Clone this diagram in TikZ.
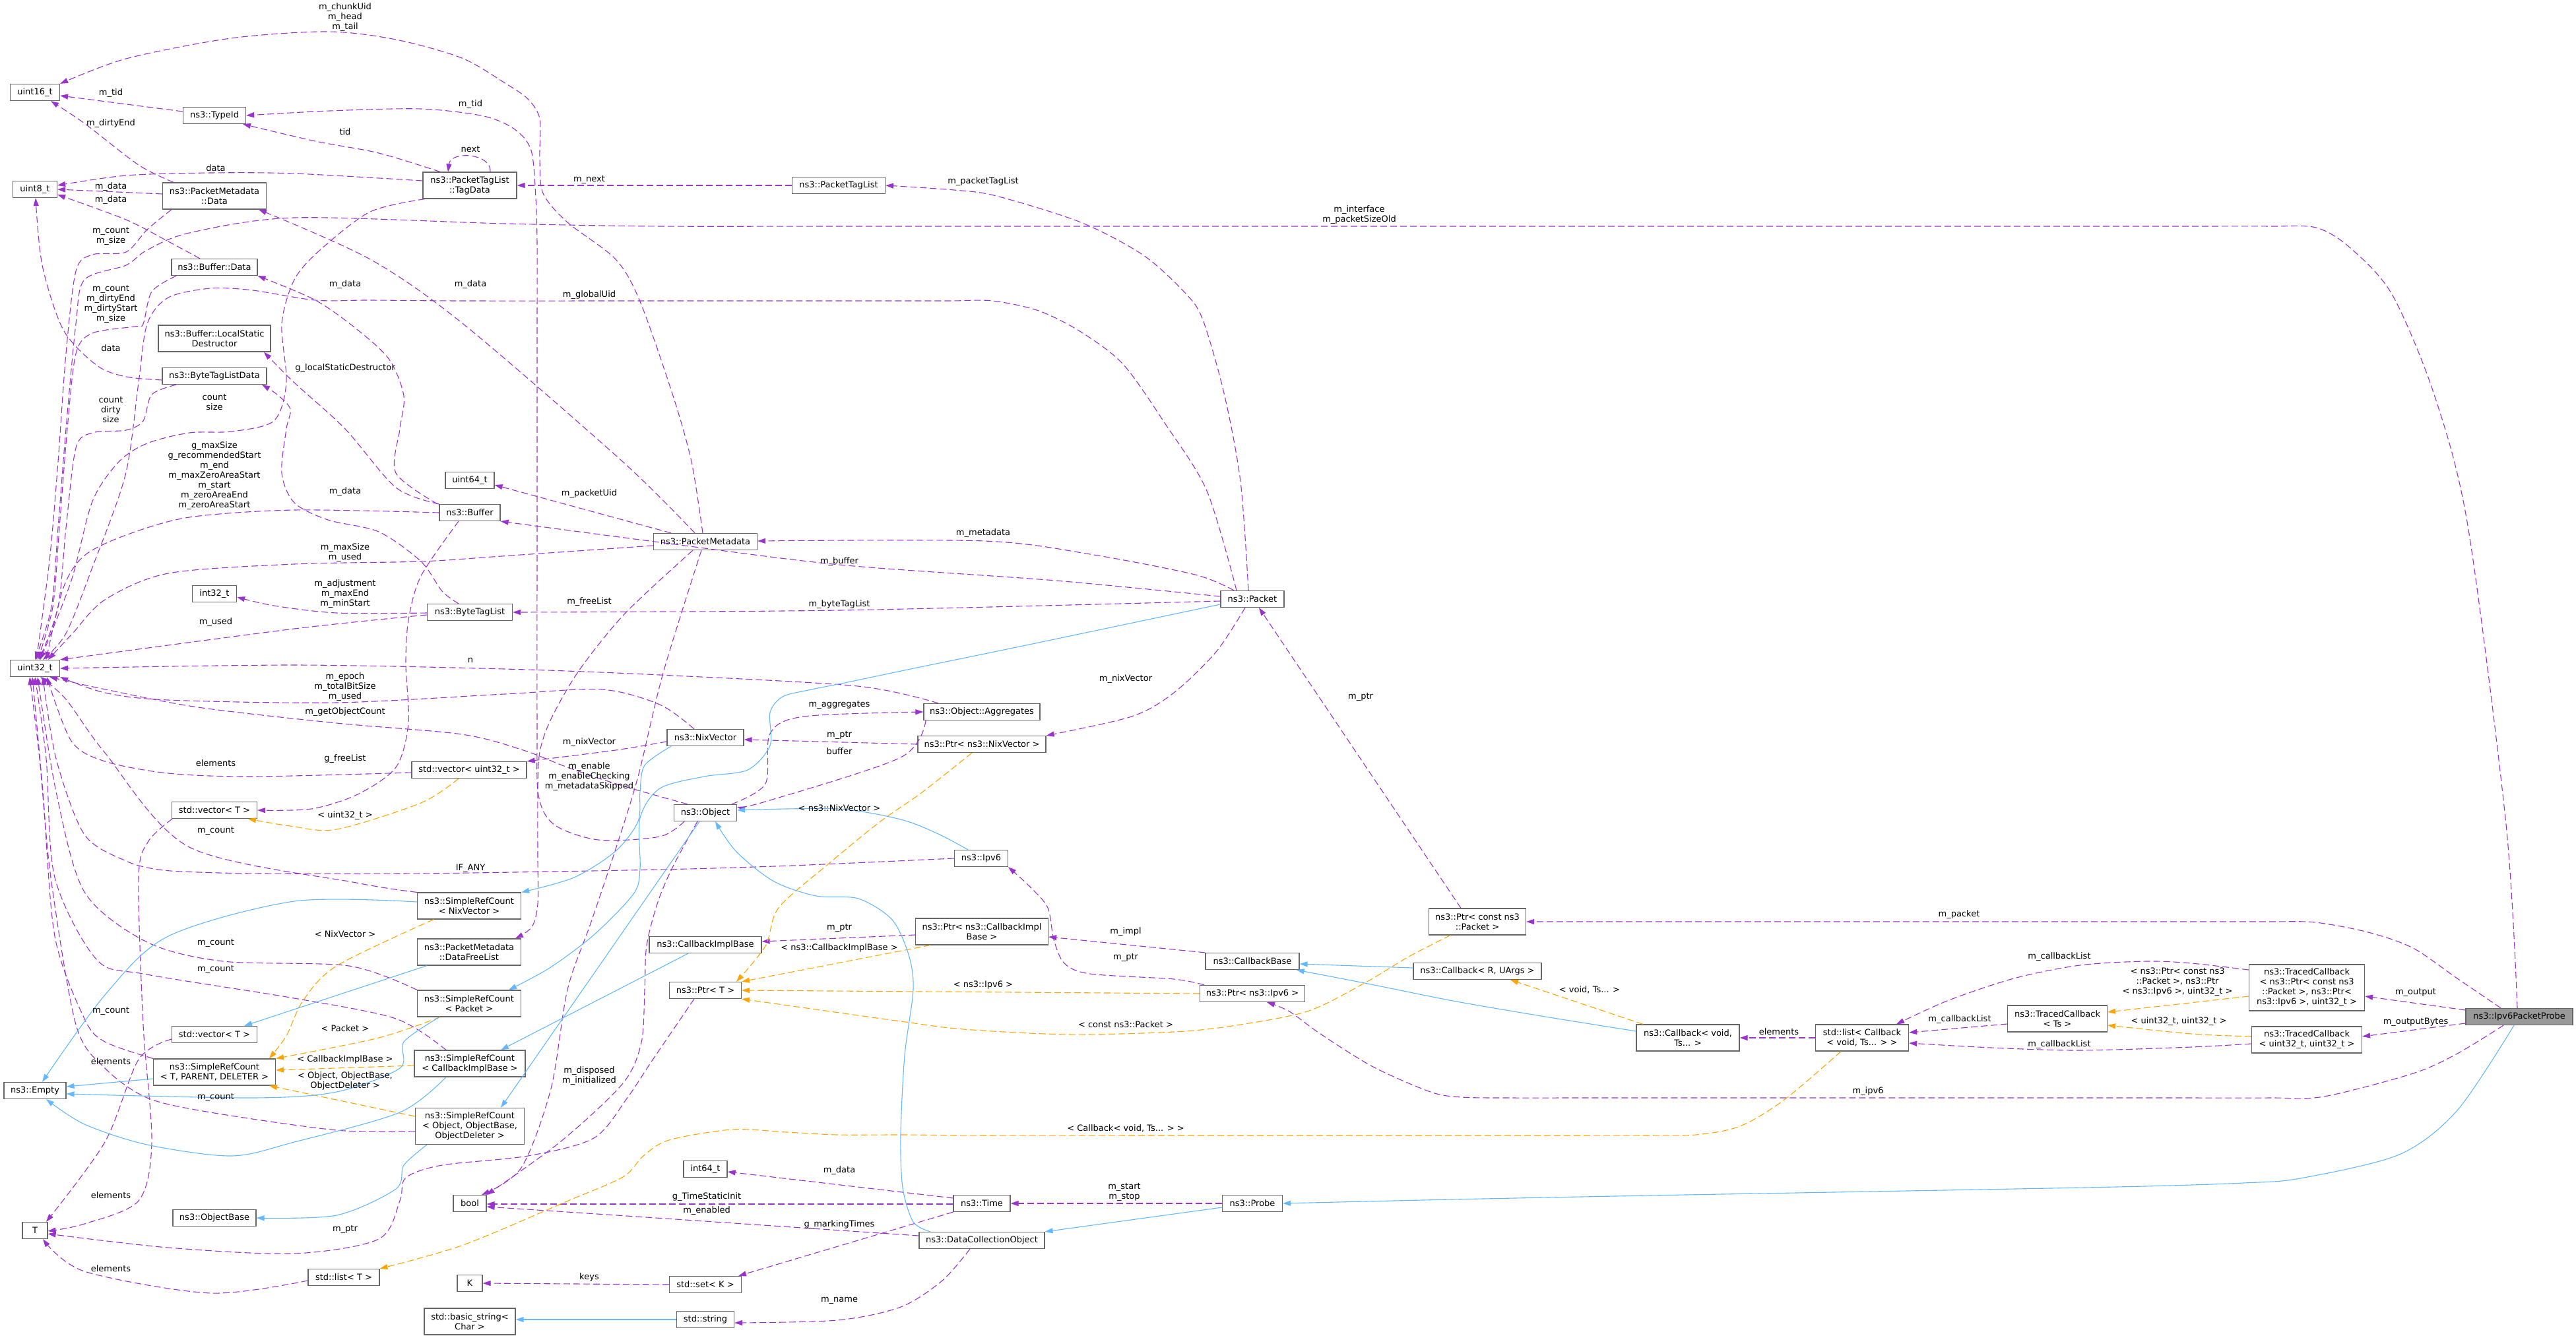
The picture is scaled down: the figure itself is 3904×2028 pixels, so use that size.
\documentclass[tikz,border=0pt]{standalone}
\usepackage{fontspec}
\setmainfont{DejaVu Sans}
\usetikzlibrary{arrows.meta}
\definecolor{memc}{HTML}{9A32CD}
\definecolor{orgc}{HTML}{FFA500}
\definecolor{bluc}{HTML}{63B8FF}
\definecolor{boxc}{HTML}{666666}
\definecolor{probec}{HTML}{999999}
\newcommand\dfont{\fontsize{13}{15}\selectfont}
\newcommand\crv[2]{\draw[#1] plot[smooth,tension=0.5] coordinates {#2};}
\tikzset{
  box/.style={draw=boxc,fill=white,line width=1.2pt,inner sep=0pt,align=center,font=\dfont},
  b/.style 2 args={box,minimum width=#1pt,minimum height=#2pt},
  lab/.style={font=\dfont,align=center,inner sep=0pt},
  mem/.style={draw=memc,line width=1.1pt,dash pattern=on 10pt off 5pt,-{Triangle[length=12pt,width=8pt]}},
  tmpl/.style={draw=orgc,line width=1.1pt,dash pattern=on 10pt off 5pt,-{Triangle[length=12pt,width=8pt]}},
  inh/.style={draw=bluc,line width=1.1pt,-{Triangle[length=12pt,width=8pt]}}
}
\begin{document}
\begin{tikzpicture}[x=1pt,y=-1pt]
\fill[white] (0,0) rectangle (3904,2028);
\useasboundingbox (0,0) rectangle (3904,2028);
% nodes
\node[b={75}{25}] (u16) at (53,140) {uint16\_t};
\node[b={95}{25}] (typeid) at (325,175) {ns3::TypeId};
\node[b={142}{40}] (tagdata) at (712,281) {ns3::PacketTagList\\::TagData};
\node[b={67}{25}] (u8) at (53,287) {uint8\_t};
\node[b={157}{40}] (pmdata) at (325,297) {ns3::PacketMetadata\\::Data};
\node[b={130}{25}] (bufdata) at (325,405) {ns3::Buffer::Data};
\node[b={170}{40}] (lsd) at (325,513) {ns3::Buffer::LocalStatic\\Destructor};
\node[b={158}{25}] (btld) at (325,570) {ns3::ByteTagListData};
\node[b={74}{25}] (u64) at (712,728) {uint64\_t};
\node[b={92}{25}] (buffer) at (712,777) {ns3::Buffer};
\node[b={67}{25}] (i32) at (325,900) {int32\_t};
\node[b={129}{25}] (btl) at (712,928) {ns3::ByteTagList};
\node[b={75}{25}] (u32) at (53,1013) {uint32\_t};
\node[b={174}{25}] (vecu32) at (711,1167) {std::vector< uint32\_t >};
\node[b={129}{25}] (vecT1) at (325,1228) {std::vector< T >};
\node[b={157}{40}] (srcnix) at (711,1373) {ns3::SimpleRefCount\\< NixVector >};
\node[b={157}{40}] (dfl) at (711,1443) {ns3::PacketMetadata\\::DataFreeList};
\node[b={157}{40}] (srcpkt) at (711,1521) {ns3::SimpleRefCount\\< Packet >};
\node[b={129}{25}] (vecT2) at (325,1568) {std::vector< T >};
\node[b={185}{40}] (srcT) at (325,1625) {ns3::SimpleRefCount\\< T, PARENT, DELETER >};
\node[b={168}{40}] (srccib) at (712,1612) {ns3::SimpleRefCount\\< CallbackImplBase >};
\node[b={94}{25}] (empty) at (53,1653) {ns3::Empty};
\node[b={165}{55}] (srcobj) at (712,1707) {ns3::SimpleRefCount\\< Object, ObjectBase,\\ObjectDeleter >};
\node[b={50}{25}] (bool) at (712,1824) {bool};
\node[b={126}{25}] (objbase) at (325,1846) {ns3::ObjectBase};
\node[b={38}{25}] (T) at (53,1865) {T};
\node[b={108}{25}] (listT) at (521,1936) {std::list< T >};
\node[b={38}{25}] (K) at (712,1945) {K};
\node[b={138}{40}] (bstr) at (712,2003) {std::basic\_string<\\Char >};
\node[b={141}{25}] (ptl) at (1271,281) {ns3::PacketTagList};
\node[b={157}{25}] (pm) at (1069,821) {ns3::PacketMetadata};
\node[b={96}{25}] (packet) at (1898,908) {ns3::Packet};
\node[b={176}{25}] (aggr) at (1488,1079) {ns3::Object::Aggregates};
\node[b={116}{25}] (nix) at (1069,1118) {ns3::NixVector};
\node[b={194}{25}] (ptrnix) at (1488,1128) {ns3::Ptr< ns3::NixVector >};
\node[b={95}{25}] (object) at (1069,1232) {ns3::Object};
\node[b={81}{25}] (ipv6) at (1487,1301) {ns3::Ipv6};
\node[b={201}{40}] (ptrcib) at (1488,1412) {ns3::Ptr< ns3::CallbackImpl\\Base >};
\node[b={170}{25}] (cib) at (1069,1432) {ns3::CallbackImplBase};
\node[b={109}{25}] (ptrT) at (1069,1501) {ns3::Ptr< T >};
\node[b={66}{25}] (int64) at (1069,1772) {int64\_t};
\node[b={86}{25}] (time) at (1488,1824) {ns3::Time};
\node[b={91}{25}] (probe) at (1898,1824) {ns3::Probe};
\node[b={190}{25}] (dco) at (1488,1880) {ns3::DataCollectionObject};
\node[b={109}{25}] (setK) at (1069,1947) {std::set< K >};
\node[b={87}{25}] (str) at (1069,2000) {std::string};
\node[b={147}{40}] (ptrcpkt) at (2239,1397) {ns3::Ptr< const ns3\\::Packet >};
\node[b={142}{25}] (cbbase) at (1898,1457) {ns3::CallbackBase};
\node[b={194}{25}] (cbR) at (2239,1472) {ns3::Callback< R, UArgs >};
\node[b={159}{25}] (ptripv6) at (1898,1506) {ns3::Ptr< ns3::Ipv6 >};
\node[b={156}{40}] (cbvoid) at (2558,1573) {ns3::Callback< void,\\Ts... >};
\node[b={141}{40}] (listcb) at (2822,1573) {std::list< Callback\\< void, Ts... > >};
\node[b={151}{40}] (tcts) at (3118,1544) {ns3::TracedCallback\\< Ts >};
\node[b={175}{70}] (tc1) at (3496,1497) {ns3::TracedCallback\\< ns3::Ptr< const ns3\\::Packet >, ns3::Ptr<\\ns3::Ipv6 >, uint32\_t >};
\node[b={167}{40}] (tc2) at (3496,1576) {ns3::TracedCallback\\< uint32\_t, uint32\_t >};
\node[b={162}{25},fill=probec] (probeI) at (3818,1541) {ns3::Ipv6PacketProbe};
% member edges
\crv{mem}{([xshift=-4pt]pm.north) (1048,700) (1020,600) (970,457) (933,393) (860,337) (823,293) (818,240) (818,180) (800,150) (767,127) (700,88) (600,60) (497,48) (350,58) (191,89) (u16.north east)}
\crv{mem}{([xshift=-32pt]object.south) (1000,1268) (907,1273) (840,1250) (816,1205) (814,1100) (814,800) (814,500) (814,370) (812,300) (805,228) (780,196) (733,176) (638,165) (500,168) (typeid.east)}
\draw[mem] ([yshift=6pt]typeid.west) -- ([yshift=-5pt]u16.east);
\crv{mem}{([xshift=-62pt]pmdata.north) (210,250) (128,187) ([xshift=24pt]u16.south)}
\crv{mem}{([yshift=7pt]tagdata.west) (446,263) (319,262) (191,266) ([yshift=6pt]u8.east)}
\draw[mem] ([yshift=3pt]pmdata.west) -- (u8.east);
\crv{mem}{([xshift=-22pt]bufdata.north) (255,366) (191,333) ([yshift=-8pt]u8.east)}
\crv{mem}{([xshift=-45pt]tagdata.north) (574,232) (478,214) ([xshift=43pt]typeid.south)}
\draw[mem] ([xshift=31pt]tagdata.north) .. controls (745,232) and (683,228) .. ([xshift=-33pt]tagdata.north);
\draw[mem] (ptl.west) -- (tagdata.east);
\crv{mem}{([xshift=-6pt]packet.north) (1880,730) (1855,596) (1823,485) (1797,445) (1733,387) (1638,337) (1510,297) (1446,288) (ptl.east)}
\crv{mem}{([xshift=-65pt]pmdata.south) (223,348) (191,382) (140,386) (115,411) (100,536) (88,700) (75,850) ([xshift=2pt]u32.north)}
\crv{mem}{([xshift=-58pt]bufdata.south) (230,442) (217,491) (204,495) (140,505) (115,536) (102,650) (90,800) (80,920) ([xshift=4pt]u32.north)}
\crv{mem}{([yshift=-6pt]btld.west) (191,571) (147,554) (96,500) (64,402) ([xshift=1pt]u8.south)}
\crv{mem}{([xshift=-58pt]btld.south) (230,598) (217,638) (191,652) (140,656) (115,679) (100,800) (88,920) ([xshift=6pt]u32.north)}
\crv{mem}{([xshift=-68pt]tagdata.south) (561,321) (485,379) (446,424) (427,491) (434,580) (415,638) (351,654) (287,656) (223,672) (180,700) (140,760) (108,880) ([xshift=8pt]u32.north)}
\crv{mem}{([xshift=-24pt]packet.north) (1829,744) (1765,641) (1702,552) (1638,503) (1574,471) (1504,456) (1440,456) (1330,456) (1150,456) (1000,456) (700,456) (560,455) (478,455) (383,440) (319,437) (255,451) (223,491) (210,580) (190,720) (140,860) (100,960) ([xshift=12pt]u32.north)}
\crv{mem}{([xshift=-3pt]probeI.north) (3798,1250) (3740,797) (3689,598) (3625,446) (3561,375) (3510,345) (3440,343) (3330,343) (3150,343) (2800,343) (2300,343) (1900,343) (1300,343) (1000,343) (765,339) (446,330) (287,353) (223,379) (191,402) (128,424) (115,491) (100,650) (88,800) (78,920) (u32.north)}
\crv{mem}{(buffer.west) (446,773) (287,784) (191,811) (128,842) (96,891) ([xshift=17pt]u32.north)}
\crv{mem}{([yshift=-6pt]pm.west) (760,843) (638,851) (446,855) (255,869) (159,909) (110,960) ([xshift=20pt]u32.north)}
\crv{mem}{([yshift=-1pt]btl.west) (510,929) (415,918) ([yshift=-5pt]i32.east)}
\crv{mem}{([yshift=-4pt]btl.west) (446,953) (u32.north east)}
\crv{mem}{([xshift=-66pt]aggr.north) (1300,1040) (1000,1023) (765,1014) (446,1008) (u32.east)}
\crv{mem}{([xshift=-17pt]nix.north) (1000,1068) (912,1045) (765,1052) (510,1065) (255,1061) (159,1050) (u32.south east)}
\crv{mem}{([xshift=-27pt]object.north) (940,1190) (860,1163) (793,1137) (700,1113) (510,1096) (300,1072) (160,1045) ([xshift=22pt]u32.south)}
\crv{mem}{([yshift=-4pt]vecu32.west) (383,1177) (255,1172) (159,1154) (108,1123) ([xshift=18pt]u32.south)}
\crv{mem}{(ipv6.west) (1200,1312) (1000,1318) (638,1324) (400,1324) (300,1322) (240,1318) (191,1305) (128,1265) (85,1150) ([xshift=12pt]u32.south)}
\crv{mem}{(srcnix.north west) (540,1338) (287,1284) (159,1141) (100,1060) ([xshift=8pt]u32.south)}
\crv{mem}{(srcpkt.north west) (529,1464) (338,1457) (223,1428) (128,1352) (85,1200) ([xshift=4pt]u32.south)}
\crv{mem}{([xshift=-36pt]srccib.north) (600,1544) (446,1513) (223,1477) (147,1455) (83,1330) (70,1150) (u32.south)}
\crv{mem}{(srcT.north west) (159,1579) (128,1544) (83,1419) (65,1200) ([xshift=-4pt]u32.south)}
\crv{mem}{([yshift=-8pt]srcobj.west) (510,1713) (319,1686) (223,1664) (159,1619) (115,1553) (77,1330) (60,1150) ([xshift=-8pt]u32.south)}
\crv{mem}{([xshift=-64pt]vecT1.south) (225,1275) (210,1330) (217,1553) (230,1731) (210,1820) (128,1855) ([yshift=-1pt]T.east)}
\crv{mem}{([yshift=-7pt]vecT2.west) (210,1606) (159,1731) ([xshift=17pt]T.north)}
\crv{mem}{([yshift=-5pt]listT.west) (319,1960) (128,1927) ([xshift=12pt]T.south)}
\crv{mem}{([xshift=-17pt]ptrT.south) (988,1608) (950,1665) (900,1725) (800,1752) (670,1766) (615,1785) (606,1820) (574,1878) (446,1900) (255,1891) ([yshift=-5pt]T.east)}
\draw[mem] ([yshift=-1pt]time.west) -- ([yshift=-1pt]bool.east);
\crv{mem}{([yshift=7pt]dco.west) (950,1843) ([yshift=-5pt]bool.east)}
\crv{mem}{([xshift=-12pt]object.south) (1020,1313) (997,1367) (980,1433) (977,1500) (972,1580) (944,1642) (850,1730) (bool.north east)}
\crv{mem}{([xshift=-6pt]pm.south) (1005,1020) (967,1177) (933,1287) (895,1400) (860,1500) (835,1650) (790,1770) ([xshift=18pt]bool.north)}
\crv{mem}{([xshift=-19pt]pm.south) (947,930) (877,1017) (835,1090) (818,1140) (815,1200) (815,1300) (815,1370) (806,1405) ([xshift=70pt]dfl.north)}
\crv{mem}{([xshift=-16pt]pm.north) (944,700) (702,491) (561,393) ([xshift=67pt]pmdata.south)}
\draw[mem] ([xshift=-52pt]pm.north) -- ([yshift=-7pt]u64.east);
\crv{mem}{([xshift=-28pt]packet.north) (1811,871) (1652,840) (1492,820) ([yshift=1pt]pm.east)}
\crv{mem}{([yshift=4pt]packet.west) (1600,880) (1272,856) (1000,822) (buffer.south east)}
\crv{mem}{([yshift=-3pt]packet.west) (1272,925) (btl.east)}
\crv{mem}{([xshift=-49pt]buffer.north) (600,717) (606,650) (612,600) (590,545) (542,500) (478,455) (bufdata.south east)}
\crv{mem}{(buffer.north west) (600,739) (523,650) (446,580) ([xshift=75pt]lsd.south)}
\crv{mem}{([xshift=-17pt]buffer.south) (638,873) (619,940) (615,1007) (619,1096) (600,1163) (542,1204) (472,1226) (vecT1.east)}
\crv{mem}{([xshift=-17pt]btl.north) (670,896) (638,851) (574,806) (497,788) (446,762) (427,717) (434,650) (440,620) (420,598) ([xshift=72pt]btld.south)}
\crv{mem}{([yshift=-6pt]nix.west) (933,1137) (vecu32.north east)}
\draw[mem] (ptrnix.west) -- ([yshift=-3pt]nix.east);
\crv{mem}{([xshift=-11pt]packet.south) (1843,988) (1779,1050) (1715,1086) (ptrnix.north east)}
\crv{mem}{([xshift=40pt]object.north) (1160,1188) (1167,1112) (1218,1086) (aggr.west)}
\crv{mem}{([xshift=-85pt]aggr.south) (1365,1148) (1160,1215) ([yshift=9pt]object.east)}
\draw[mem] ([xshift=-25pt]ptrcpkt.north) -- ([xshift=10pt]packet.south);
\draw[mem] (cbbase.north west) -- ([yshift=-8pt]ptrcib.east);
\draw[mem] ([yshift=-5pt]ptrcib.west) -- ([yshift=5pt]cib.east);
\crv{mem}{([xshift=-73pt]ptripv6.north) (1779,1484) (1652,1476) (1613,1460) (1597,1424) (1588,1376) (1562,1345) (ipv6.south east)}
\draw[mem] ([yshift=8pt]time.west) -- ([yshift=-4pt]int64.east);
\draw[mem] (time.south west) -- ([xshift=50pt]setK.north);
\draw[mem] (probe.west) -- (time.east);
\crv{mem}{([xshift=-18pt]dco.south) (1428,1941) (1365,1981) (1269,2001) ([yshift=-5pt]str.east)}
\draw[mem] (setK.west) -- (K.east);
\draw[mem] (listcb.west) -- (cbvoid.east);
\draw[mem] ([yshift=-8pt]tcts.west) -- ([yshift=8pt]listcb.east);
\crv{mem}{([yshift=27pt]tc1.west) (3321,1460) (3253,1457) (3152,1463) (3052,1483) (2951,1517) ([xshift=52pt]listcb.north)}
\crv{mem}{([yshift=-6pt]tc2.west) (3321,1587) (3152,1592) (3018,1588) ([yshift=-8pt]listcb.east)}
\draw[mem] ([yshift=10pt]probeI.west) -- ([yshift=-13pt]tc1.east);
\draw[mem] ([yshift=-10pt]probeI.west) -- ([yshift=5pt]tc2.east);
\crv{mem}{([xshift=-28pt]probeI.north) (3724,1483) (3657,1437) (3589,1413) (3509,1398) (3440,1397) (3330,1397) (3150,1397) (2900,1397) (2600,1397) (ptrcpkt.east)}
\crv{mem}{([xshift=-24pt]probeI.south) (3724,1597) (3657,1627) (3522,1662) (3440,1664) (3300,1664) (3100,1664) (2850,1664) (2600,1664) (2400,1664) (2290,1664) (2215,1663) (2168,1655) (2081,1617) (2001,1567) (1954,1533) ([xshift=22pt]ptripv6.south)}
% template edges
\crv{tmpl}{([xshift=-16pt]vecu32.south) (638,1217) (510,1257) (440,1252) ([xshift=51pt]vecT1.south)}
\crv{tmpl}{([xshift=-54pt]srcnix.south) (510,1464) (459,1517) (434,1570) ([xshift=83pt]srcT.north)}
\crv{tmpl}{([xshift=-44pt]srcpkt.south) (574,1573) (srcT.north east)}
\draw[tmpl] ([yshift=-3pt]srccib.west) -- ([yshift=3pt]srcT.east);
\draw[tmpl] ([yshift=15pt]srcobj.west) -- ([xshift=83pt]srcT.south);
\crv{tmpl}{([xshift=-15pt]ptrnix.south) (1396,1202) (1333,1246) (1256,1309) (1180,1376) (1160,1434) ([xshift=47pt]ptrT.north)}
\draw[tmpl] ([xshift=-78pt]ptrcib.south) -- (ptrT.north east);
\draw[tmpl] (ptripv6.west) -- (ptrT.east);
\crv{tmpl}{([xshift=-41pt]ptrcpkt.south) (2135,1450) (2068,1490) (1981,1533) (1867,1555) (1779,1564) (1620,1568) (1460,1560) (1365,1548) (ptrT.south east)}
\draw[tmpl] ([xshift=-68pt]cbvoid.north) -- ([xshift=50pt]cbR.south);
\crv{tmpl}{([xshift=-32pt]listcb.south) (2704,1667) (2637,1707) (2570,1720) (2490,1721) (2370,1721) (2150,1721) (1800,1721) (1500,1721) (1370,1720) (1269,1720) (1192,1716) (1109,1712) (1014,1728) (975,1752) (944,1784) (861,1820) (702,1887) (listT.north east)}
\draw[tmpl] ([yshift=-13pt]tc1.west) -- ([yshift=10pt]tcts.east);
\crv{tmpl}{([yshift=5pt]tc2.west) (3321,1567) ([yshift=-10pt]tcts.east)}
% inheritance edges
\crv{inh}{([yshift=-8pt]packet.west) (1550,979) (1380,1014) (1280,1035) (1225,1046) (1186,1056) (1167,1080) (1167,1130) (1133,1167) (1067,1177) (1000,1195) (970,1240) (970,1317) (960,1355) (900,1417) (833,1467) ([xshift=60pt]srcpkt.north)}
\crv{inh}{([xshift=-52pt]nix.south) (977,1160) (970,1200) (967,1245) (933,1290) (870,1330) (srcnix.north east)}
\crv{inh}{([yshift=6pt]srcnix.west) (446,1366) (255,1419) (159,1508) ([xshift=11pt]empty.north)}
\draw[inh] ([yshift=-10pt]srcT.west) -- ([yshift=6pt]empty.east);
\crv{inh}{([xshift=-45pt]srcpkt.south) (612,1579) (606,1619) (510,1655) (383,1664) ([yshift=-5pt]empty.east)}
\crv{inh}{([xshift=-36pt]srccib.south) (606,1686) (446,1731) (351,1752) (223,1735) (128,1704) ([xshift=17pt]empty.south)}
\crv{inh}{([xshift=-65pt]srcobj.south) (612,1766) (600,1802) (510,1842) (objbase.east)}
\draw[inh] ([xshift=-64pt]dfl.south) -- ([xshift=45pt]vecT2.north);
\draw[inh] ([xshift=-26pt]cib.south) -- ([xshift=47pt]srccib.north);
\draw[inh] ([xshift=-9pt]object.south) -- ([xshift=47pt]srcobj.north);
\crv{inh}{([xshift=-78pt]dco.north) (1384,1852) (1368,1800) (1365,1720) (1371,1600) (1384,1500) (1377,1447) (1352,1394) (1301,1362) (1237,1358) (1173,1336) (1116,1291) ([xshift=15pt]object.south)}
\crv{inh}{([xshift=-20pt]ipv6.north) (1422,1264) (1365,1242) (1269,1226) ([yshift=4pt]object.east)}
\draw[inh] ([yshift=-6pt]probe.west) -- (dco.north east);
\draw[inh] (str.west) -- ([yshift=3pt]bstr.east);
\draw[inh] ([yshift=5pt]cbR.west) -- ([yshift=-4pt]cbbase.east);
\crv{inh}{([yshift=10pt]cbvoid.west) (2336,1540) (2202,1517) (2068,1490) ([xshift=-5pt]cbbase.south east)}
\crv{inh}{([xshift=-8pt]probeI.south) (3724,1683) (3636,1750) (3486,1786) (3400,1793) (3250,1798) (3000,1803) (2500,1812) (2200,1818) (probe.east)}
% labels
\node[lab] (l1) at (523,26) {m\_chunkUid\\m\_head\\m\_tail};
\node[lab] (l2) at (168,141) {m\_tid};
\node[lab] (l3) at (168,187) {m\_dirtyEnd};
\node[lab] (l4) at (713,158) {m\_tid};
\node[lab] (l5) at (523,200) {tid};
\node[lab] (l6) at (713,226) {next};
\node[lab] (l7) at (327,255) {data};
\node[lab] (l8) at (893,272) {m\_next};
\node[lab] (l9) at (168,283) {m\_data};
\node[lab] (l10) at (168,303) {m\_data};
\node[lab] (l11) at (168,358) {m\_count\\m\_size};
\node[lab] (l12) at (523,431) {m\_data};
\node[lab] (l13) at (713,431) {m\_data};
\node[lab] (l14) at (893,447) {m\_globalUid};
\node[lab] (l15) at (168,461) {m\_count\\m\_dirtyEnd\\m\_dirtyStart\\m\_size};
\node[lab] (l16) at (168,528) {data};
\node[lab] (l17) at (523,558) {g\_localStaticDestructor};
\node[lab] (l18) at (168,621) {count\\dirty\\size};
\node[lab] (l19) at (325,610) {count\\size};
\node[lab] (l20) at (325,721) {g\_maxSize\\g\_recommendedStart\\m\_end\\m\_maxZeroAreaStart\\m\_start\\m\_zeroAreaEnd\\m\_zeroAreaStart};
\node[lab] (l21) at (523,745) {m\_data};
\node[lab] (l22) at (893,748) {m\_packetUid};
\node[lab] (l23) at (523,838) {m\_maxSize\\m\_used};
\node[lab] (l24) at (523,900) {m\_adjustment\\m\_maxEnd\\m\_minStart};
\node[lab] (l25) at (893,912) {m\_freeList};
\node[lab] (l26) at (327,943) {m\_used};
\node[lab] (l27) at (713,1001) {n};
\node[lab] (l28) at (523,1041) {m\_epoch\\m\_totalBitSize\\m\_used};
\node[lab] (l29) at (523,1079) {m\_getObjectCount};
\node[lab] (l30) at (893,1125) {m\_nixVector};
\node[lab] (l31) at (327,1157) {elements};
\node[lab] (l32) at (523,1150) {g\_freeList};
\node[lab] (l33) at (893,1177) {m\_enable\\m\_enableChecking\\m\_metadataSkipped};
\node[lab] (l34) at (523,1236) {< uint32\_t >};
\node[lab] (l35) at (327,1259) {m\_count};
\node[lab] (l36) at (713,1316) {IF\_ANY};
\node[lab] (l37) at (523,1416) {< NixVector >};
\node[lab] (l38) at (327,1429) {m\_count};
\node[lab] (l39) at (327,1469) {m\_count};
\node[lab] (l40) at (168,1532) {m\_count};
\node[lab] (l41) at (523,1559) {< Packet >};
\node[lab] (l42) at (168,1609) {elements};
\node[lab] (l43) at (523,1606) {< CallbackImplBase >};
\node[lab] (l44) at (523,1638) {< Object, ObjectBase,\\ObjectDeleter >};
\node[lab] (l45) at (327,1663) {m\_count};
\node[lab] (l46) at (893,1631) {m\_disposed\\m\_initialized};
\node[lab] (l47) at (168,1812) {elements};
\node[lab] (l48) at (523,1863) {m\_ptr};
\node[lab] (l49) at (168,1923) {elements};
\node[lab] (l50) at (893,1936) {keys};
\node[lab] (l51) at (1490,275) {m\_packetTagList};
\node[lab] (l52) at (1490,808) {m\_metadata};
\node[lab] (l53) at (1272,851) {m\_buffer};
\node[lab] (l54) at (1272,916) {m\_byteTagList};
\node[lab] (l55) at (1706,1029) {m\_nixVector};
\node[lab] (l56) at (1272,1068) {m\_aggregates};
\node[lab] (l57) at (1272,1114) {m\_ptr};
\node[lab] (l58) at (1272,1139) {buffer};
\node[lab] (l59) at (1272,1225) {< ns3::NixVector >};
\node[lab] (l60) at (1272,1406) {m\_ptr};
\node[lab] (l61) at (1706,1412) {m\_impl};
\node[lab] (l62) at (1272,1437) {< ns3::CallbackImplBase >};
\node[lab] (l63) at (1706,1451) {m\_ptr};
\node[lab] (l64) at (1490,1493) {< ns3::Ipv6 >};
\node[lab] (l65) at (1706,1553) {< const ns3::Packet >};
\node[lab] (l66) at (1706,1710) {< Callback< void, Ts... > >};
\node[lab] (l67) at (1272,1774) {m\_data};
\node[lab] (l68) at (1071,1814) {g\_TimeStaticInit};
\node[lab] (l69) at (1704,1807) {m\_start\\m\_stop};
\node[lab] (l70) at (1071,1835) {m\_enabled};
\node[lab] (l71) at (1272,1856) {g\_markingTimes};
\node[lab] (l72) at (1272,1971) {m\_name};
\node[lab] (l73) at (2060,326) {m\_interface\\m\_packetSizeOld};
\node[lab] (l74) at (2062,1056) {m\_ptr};
\node[lab] (l75) at (2409,1500) {< void, Ts... >};
\node[lab] (l76) at (2696,1564) {elements};
\node[lab] (l77) at (2831,1654) {m\_ipv6};
\node[lab] (l78) at (2969,1386) {m\_packet};
\node[lab] (l79) at (3121,1450) {m\_callbackList};
\node[lab] (l80) at (3300,1488) {< ns3::Ptr< const ns3\\::Packet >, ns3::Ptr\\< ns3::Ipv6 >, uint32\_t >};
\node[lab] (l81) at (3661,1504) {m\_output};
\node[lab] (l82) at (2970,1545) {m\_callbackList};
\node[lab] (l83) at (3661,1549) {m\_outputBytes};
\node[lab] (l84) at (3302,1548) {< uint32\_t, uint32\_t >};
\node[lab] (l85) at (3121,1583) {m\_callbackList};
\end{tikzpicture}
\end{document}
